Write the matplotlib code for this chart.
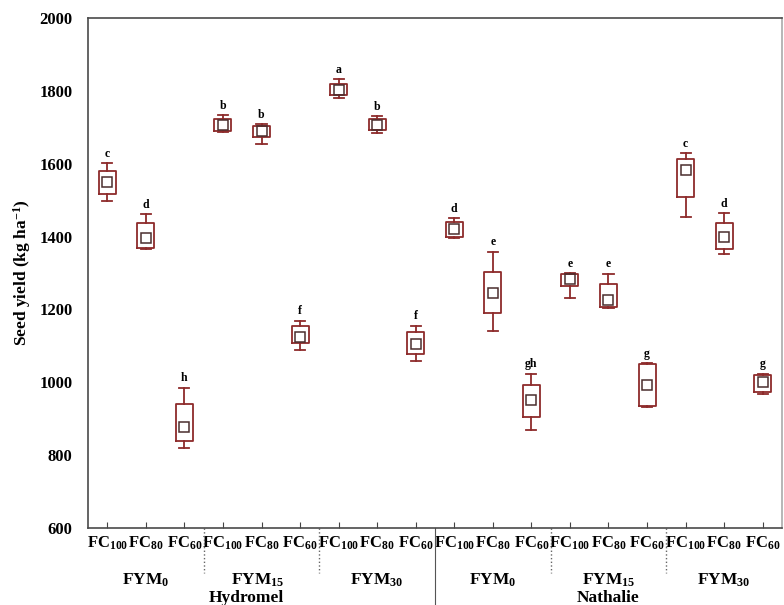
import numpy as np
import matplotlib
matplotlib.use('Agg')
import matplotlib.pyplot as plt

plt.rcParams['font.family'] = ['Liberation Serif', 'DejaVu Serif']
plt.rcParams['font.weight'] = 'bold'
plt.rcParams['mathtext.fontset'] = 'custom'
plt.rcParams['mathtext.rm'] = 'Liberation Serif:bold'
plt.rcParams['mathtext.it'] = 'Liberation Serif:bold'
plt.rcParams['mathtext.bf'] = 'Liberation Serif:bold'

# Valeurs (kg/ha)
whislo = [1497, 1367, 820, 1686, 1653, 1089, 1780, 1684, 1059,
          1395, 1142, 869, 1232, 1205, 933, 1453, 1351, 968]
q1 = [1516, 1370, 839, 1689, 1673, 1109, 1788, 1692, 1078,
      1400, 1191, 905, 1265, 1207, 935, 1510, 1367, 974]
moyenne = [1549, 1395, 877, 1706, 1689, 1125, 1802, 1706, 1106,
           1420, 1246, 952, 1283, 1226, 993, 1582, 1398, 1000]
q3 = [1579, 1436, 941, 1722, 1703, 1155, 1818, 1722, 1139,
      1439, 1304, 993, 1296, 1271, 1051, 1612, 1436, 1021]
whishi = [1601, 1461, 985, 1733, 1708, 1169, 1832, 1730, 1155,
          1450, 1359, 1023, 1300, 1298, 1053, 1629, 1464, 1024]
lettres = ['c', 'd', 'h', 'b', 'b', 'f', 'a', 'b', 'f',
           'd', 'e', 'gh', 'e', 'e', 'g', 'c', 'd', 'g']

fc_labels = ['FC$_{100}$', 'FC$_{80}$', 'FC$_{60}$'] * 6
fym_labels = ['FYM$_{0}$', 'FYM$_{15}$', 'FYM$_{30}$'] * 2
fym_pos = [1.5, 4.4, 7.5, 10.5, 13.5, 16.5]
cultivars = ['Hydromel', 'Nathalie']
cultivar_pos = [4.1, 13.5]

rouge = '#8e2b2b'

fig = plt.figure(figsize=(7.84, 6.05), dpi=100)
ax = fig.add_axes([88 / 784, 77 / 605, 694 / 784, 510 / 605])

x = np.arange(len(moyenne)) + 0.5
stats = []
for i in range(len(moyenne)):
    stats.append({'whislo': whislo[i], 'q1': q1[i], 'med': moyenne[i],
                  'q3': q3[i], 'whishi': whishi[i], 'mean': moyenne[i],
                  'fliers': []})

ax.bxp(stats, positions=x, widths=0.44, capwidths=0.26, showmeans=True,
       showfliers=False,
       boxprops=dict(color=rouge, linewidth=1.3),
       whiskerprops=dict(color=rouge, linewidth=1.3),
       capprops=dict(color=rouge, linewidth=1.3),
       medianprops=dict(linewidth=0),
       meanprops=dict(marker='s', markersize=6.5, markerfacecolor='none',
                      markeredgecolor='#4a2e2e', markeredgewidth=1.1))

# Lettres de significativité
for xi, h, l in zip(x, whishi, lettres):
    ax.annotate(l, (xi, h), xytext=(0, 2.5), textcoords='offset points',
                ha='center', va='bottom', fontsize=8.5, fontweight='bold')

ax.set_xlim(0, 18)
ax.set_ylim(600, 2000)
ax.set_yticks(np.arange(600, 2001, 200))
ax.set_xticks(x)
ax.set_xticklabels(fc_labels, fontsize=12, fontweight='bold')
ax.tick_params(axis='x', direction='in', length=4, pad=5, color='#444444')
ax.tick_params(axis='y', length=0, pad=11, labelsize=12)
for s in ax.spines.values():
    s.set_color('#4a4a4a')
    s.set_linewidth(1.2)
ax.spines['right'].set_color('#aaaaaa')

ax.set_ylabel('Seed yield (kg ha$^{-1}$)', fontsize=12.5, fontweight='bold',
              labelpad=5)

trans = ax.get_xaxis_transform()
for p, lab in zip(fym_pos, fym_labels):
    ax.text(p, -0.102, lab, transform=trans, ha='center', va='center',
            fontsize=12.5, fontweight='bold')
for p, lab in zip(cultivar_pos, cultivars):
    ax.text(p, -0.137, lab, transform=trans, ha='center', va='center',
            fontsize=12.5, fontweight='bold')

# Séparateurs entre groupes
for b in [3, 6, 12, 15]:
    ax.plot([b, b], [0, -0.088], transform=trans, clip_on=False,
            color='#666666', linestyle=':', linewidth=1)
ax.plot([9, 9], [0, -0.16], transform=trans, clip_on=False,
        color='#555555', linewidth=0.8)

fig.savefig('out.png', dpi=100)
